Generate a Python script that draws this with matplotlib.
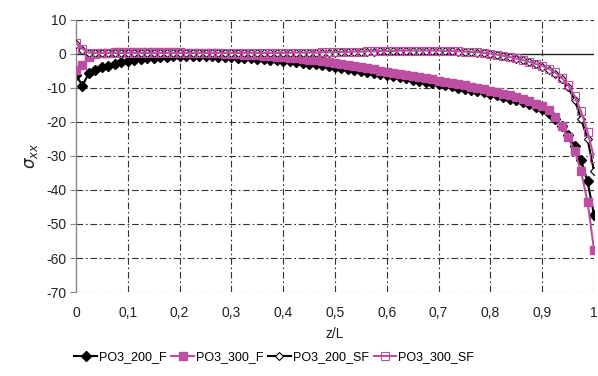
import numpy as np
import matplotlib
matplotlib.use("Agg")
import matplotlib.pyplot as plt

plt.rcParams['font.family'] = ['Liberation Sans', 'DejaVu Sans']
plt.rcParams['axes.unicode_minus'] = False

# ======= DATA =======
z = np.linspace(0, 1, 81)

po3_200_f = [
    -6.2, -9.3, -5.5, -4.6, -3.9, -3.4, -2.9, -2.5, -2.1, -1.8,
    -1.5, -1.3, -1.1, -0.9, -0.8, -0.7, -0.6, -0.6, -0.6, -0.6,
    -0.6, -0.7, -0.8, -0.9, -1.0, -1.1, -1.2, -1.3, -1.4, -1.5,
    -1.7, -1.8, -2.0, -2.2, -2.4, -2.6, -2.8, -3.0, -3.3, -3.5,
    -3.8, -4.1, -4.4, -4.7, -5.0, -5.3, -5.6, -5.9, -6.3, -6.6,
    -6.9, -7.2, -7.6, -7.9, -8.2, -8.6, -8.9, -9.2, -9.5, -9.9,
    -10.2, -10.5, -10.9, -11.3, -11.7, -12.1, -12.6, -13.1, -13.6, -14.2,
    -14.8, -15.5, -16.2, -17.5, -19.2, -21.3, -23.8, -27.0, -31.3, -37.5,
    -47.3]

po3_300_f = [
    -4.8, -3.1, -0.8, 0.0, 0.3, 0.4, 0.5, 0.5, 0.5, 0.5,
    0.5, 0.5, 0.5, 0.5, 0.5, 0.5, 0.5, 0.4, 0.4, 0.4,
    0.3, 0.3, 0.2, 0.1, 0.0, -0.1, -0.2, -0.3, -0.4, -0.5,
    -0.6, -0.8, -0.9, -1.1, -1.3, -1.5, -1.7, -1.9, -2.1, -2.4,
    -2.7, -3.0, -3.3, -3.6, -3.9, -4.2, -4.5, -4.9, -5.2, -5.5,
    -5.8, -6.2, -6.5, -6.8, -7.2, -7.5, -7.9, -8.2, -8.5, -8.9,
    -9.2, -9.6, -10.0, -10.4, -10.8, -11.2, -11.7, -12.2, -12.7, -13.3,
    -13.9, -14.6, -15.4, -16.5, -18.5, -21.3, -24.5, -28.5, -34.5, -43.5,
    -57.5]

po3_200_sf = [
    3.0, 1.3, 0.3, 0.2, 0.2, 0.2, 0.2, 0.2, 0.2, 0.2,
    0.2, 0.2, 0.2, 0.2, 0.2, 0.2, 0.2, 0.2, 0.2, 0.2,
    0.2, 0.2, 0.2, 0.2, 0.2, 0.2, 0.2, 0.2, 0.2, 0.2,
    0.2, 0.2, 0.2, 0.2, 0.3, 0.3, 0.3, 0.3, 0.4, 0.4,
    0.4, 0.5, 0.5, 0.6, 0.6, 0.7, 0.7, 0.8, 0.8, 0.8,
    0.9, 0.9, 0.9, 0.9, 0.9, 0.9, 0.9, 0.8, 0.8, 0.7,
    0.6, 0.5, 0.4, 0.2, 0.0, -0.3, -0.6, -1.0, -1.4, -1.9,
    -2.4, -3.0, -3.7, -4.6, -5.8, -7.5, -9.8, -13.5, -19.0, -25.0,
    -34.5]

po3_300_sf = [
    3.2, 1.5, 0.4, 0.3, 0.3, 0.3, 0.3, 0.3, 0.3, 0.3,
    0.3, 0.3, 0.3, 0.3, 0.3, 0.3, 0.3, 0.3, 0.3, 0.3,
    0.3, 0.3, 0.3, 0.3, 0.3, 0.3, 0.3, 0.3, 0.3, 0.3,
    0.3, 0.3, 0.3, 0.3, 0.4, 0.4, 0.4, 0.4, 0.5, 0.5,
    0.5, 0.6, 0.6, 0.7, 0.7, 0.8, 0.8, 0.9, 0.9, 0.9,
    1.0, 1.0, 1.0, 1.0, 1.0, 1.0, 1.0, 0.9, 0.9, 0.8,
    0.7, 0.6, 0.5, 0.3, 0.1, -0.2, -0.5, -0.9, -1.3, -1.8,
    -2.3, -2.9, -3.5, -4.3, -5.4, -7.0, -9.2, -12.3, -16.8, -22.8,
    -30.5]

x_ticks = [0, 0.1, 0.2, 0.3, 0.4, 0.5, 0.6, 0.7, 0.8, 0.9, 1]
x_tick_labels = ['0', '0,1', '0,2', '0,3', '0,4', '0,5', '0,6', '0,7', '0,8', '0,9', '1']
y_ticks = [10, 0, -10, -20, -30, -40, -50, -60, -70]

pink = '#BC4FA2'

# ======= FIGURE =======
fig = plt.figure(figsize=(5.98, 3.76), dpi=100)
ax = fig.add_axes([76 / 598, 1 - 292 / 376, 518 / 598, 272 / 376])

grid_ls = (0, (6, 2.5, 1.5, 2.5))
for xt in x_ticks[1:]:
    ax.axvline(xt, color='#333333', lw=0.8, ls=grid_ls, zorder=0)
for yt in y_ticks:
    if yt != 0:
        ax.axhline(yt, color='#333333', lw=0.8, ls=grid_ls, zorder=0)
ax.axhline(0, color='#222222', lw=1.0, zorder=1)

ax.plot(z, po3_200_f, color='black', lw=1.5, marker='D', ms=4.8,
        mfc='black', mec='black', label='PO3_200_F', zorder=2)
ax.plot(z, po3_300_f, color=pink, lw=1.5, marker='s', ms=6.2,
        mfc=pink, mec=pink, label='PO3_300_F', zorder=3)
ax.plot(z, po3_200_sf, color='black', lw=1.5, marker='D', ms=4.5,
        mfc='white', mec='black', mew=0.8, label='PO3_200_SF', zorder=4)
ax.plot(z, po3_300_sf, color=pink, lw=1.5, marker='s', ms=5.8,
        mfc='none', mec=pink, mew=0.8, label='PO3_300_SF', zorder=5)

ax.set_xlim(0, 1)
ax.set_ylim(-70, 10)
ax.set_xticks(x_ticks)
ax.set_xticklabels(x_tick_labels)
ax.set_yticks(y_ticks)

for s in ['top', 'right', 'bottom']:
    ax.spines[s].set_visible(False)
ax.spines['left'].set_color('#888888')
ax.spines['left'].set_linewidth(1.0)
ax.tick_params(axis='y', direction='out', length=4, color='#888888',
               labelsize=10, pad=3, labelcolor='#222222')
ax.tick_params(axis='x', length=0, labelsize=10, pad=10, labelcolor='#222222')

ax.set_xlabel('z/L', fontsize=10, color='#222222', labelpad=5)
ax.set_ylabel(r'$\sigma_{xx}$', fontsize=12, color='#222222', labelpad=4)

fig.legend(loc='center', bbox_to_anchor=(274 / 598, 1 - 357 / 376), ncol=4,
           frameon=False, fontsize=9, handlelength=1.8, handletextpad=0.15,
           columnspacing=0.4)

fig.savefig('out.png', dpi=100)
